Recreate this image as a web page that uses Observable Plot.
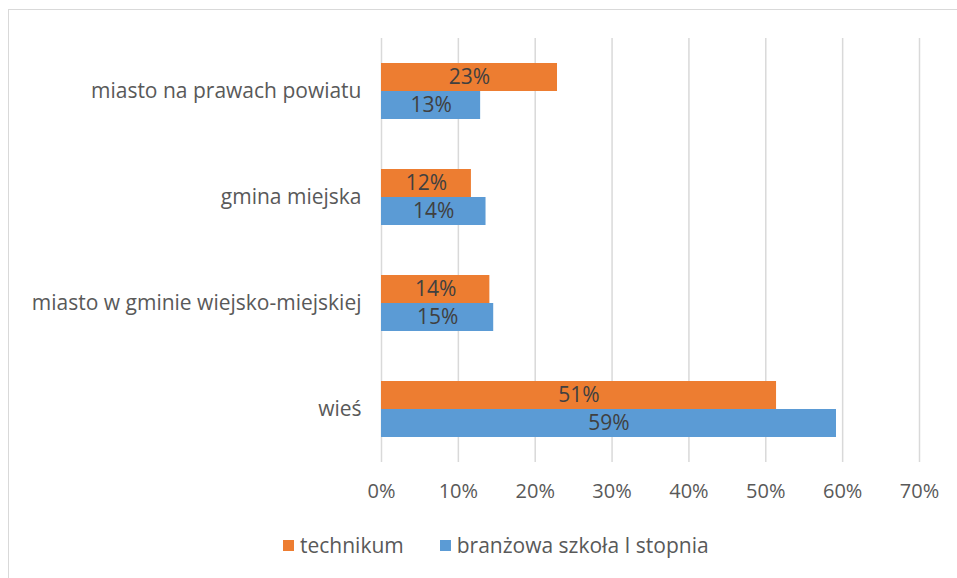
<!DOCTYPE html>
<html>
<head>
<meta charset="utf-8">
<script src="https://cdn.jsdelivr.net/npm/d3@7"></script>
<script src="https://cdn.jsdelivr.net/npm/@observablehq/plot@0.6"></script>
<style>
  html, body { margin: 0; padding: 0; background: #fff; overflow: hidden; }
  body { width: 957px; height: 578px; position: relative; font-family: "Open Sans", Lato, sans-serif; }
  #frame { position: absolute; left: 8px; top: 9px; width: 1000px; height: 1000px; border: 1px solid #d9d9d9; box-sizing: border-box; }
  #chart { position: absolute; left: 0; top: 0; }
  #legend { position: absolute; top: 531px; left: 283px; display: flex; gap: 36px; font-size: 21px; color: #595959; }
  #legend .item { display: flex; align-items: center; gap: 6px; }
  #legend .sw { width: 11px; height: 11px; display: inline-block; }
</style>
</head>
<body>
<div id="frame"></div>
<div id="chart"></div>
<div id="legend"></div>
<script>
const categories = ["miasto na prawach powiatu", "gmina miejska", "miasto w gminie wiejsko-miejskiej", "wieś"];
const seriesNames = ["technikum", "branżowa szkoła I stopnia"];
const technikum = [0.229, 0.117, 0.141, 0.514];
const branzowa = [0.129, 0.136, 0.146, 0.592];
const technikumLabels = ["23%", "12%", "14%", "51%"];
const branzowaLabels = ["13%", "14%", "15%", "59%"];
const xTicks = [0, 0.1, 0.2, 0.3, 0.4, 0.5, 0.6, 0.7];
const colors = ["#ED7D31", "#5B9BD5"];

const tData = categories.map((c, i) => ({category: c, value: technikum[i], label: technikumLabels[i]}));
const bData = categories.map((c, i) => ({category: c, value: branzowa[i], label: branzowaLabels[i]}));

const chart = Plot.plot({
  width: 957,
  height: 520,
  marginLeft: 381,
  marginRight: 38,
  marginTop: 38,
  marginBottom: 58,
  style: {fontFamily: "'Open Sans', Lato, sans-serif", fontSize: "21px", color: "#595959", background: "transparent"},
  x: {domain: [0, 0.7], ticks: xTicks, tickFormat: d3.format(".0%"), label: null, axis: null},
  y: {domain: categories, paddingInner: 0.472, paddingOuter: 0.236, label: null, axis: null},
  marks: [
    Plot.ruleX(xTicks, {stroke: "#d9d9d9", strokeWidth: 1.5}),
    Plot.axisX({ticks: xTicks, tickFormat: d3.format(".0%"), tickSize: 0, tickPadding: 21, fill: "#595959", label: null, fontSize: 20}),
    Plot.axisY({tickSize: 0, tickPadding: 20, fill: "#595959", label: null}),
    Plot.barX(tData, {x: "value", y: "category", fill: colors[0], insetBottom: 28, insetTop: 0}),
    Plot.barX(bData, {x: "value", y: "category", fill: colors[1], insetTop: 28, insetBottom: 0}),
    Plot.text(tData, {x: d => d.value / 2, y: "category", text: "label", dy: -14, fill: "#404040", fontSize: 21}),
    Plot.text(bData, {x: d => d.value / 2, y: "category", text: "label", dy: 14, fill: "#404040", fontSize: 21})
  ]
});
document.getElementById("chart").appendChild(chart);

const legend = document.getElementById("legend");
seriesNames.forEach((name, i) => {
  const item = document.createElement("div");
  item.className = "item";
  const sw = document.createElement("span");
  sw.className = "sw";
  sw.style.background = colors[i];
  const t = document.createElement("span");
  t.textContent = name;
  item.appendChild(sw);
  item.appendChild(t);
  legend.appendChild(item);
});
</script>
</body>
</html>
